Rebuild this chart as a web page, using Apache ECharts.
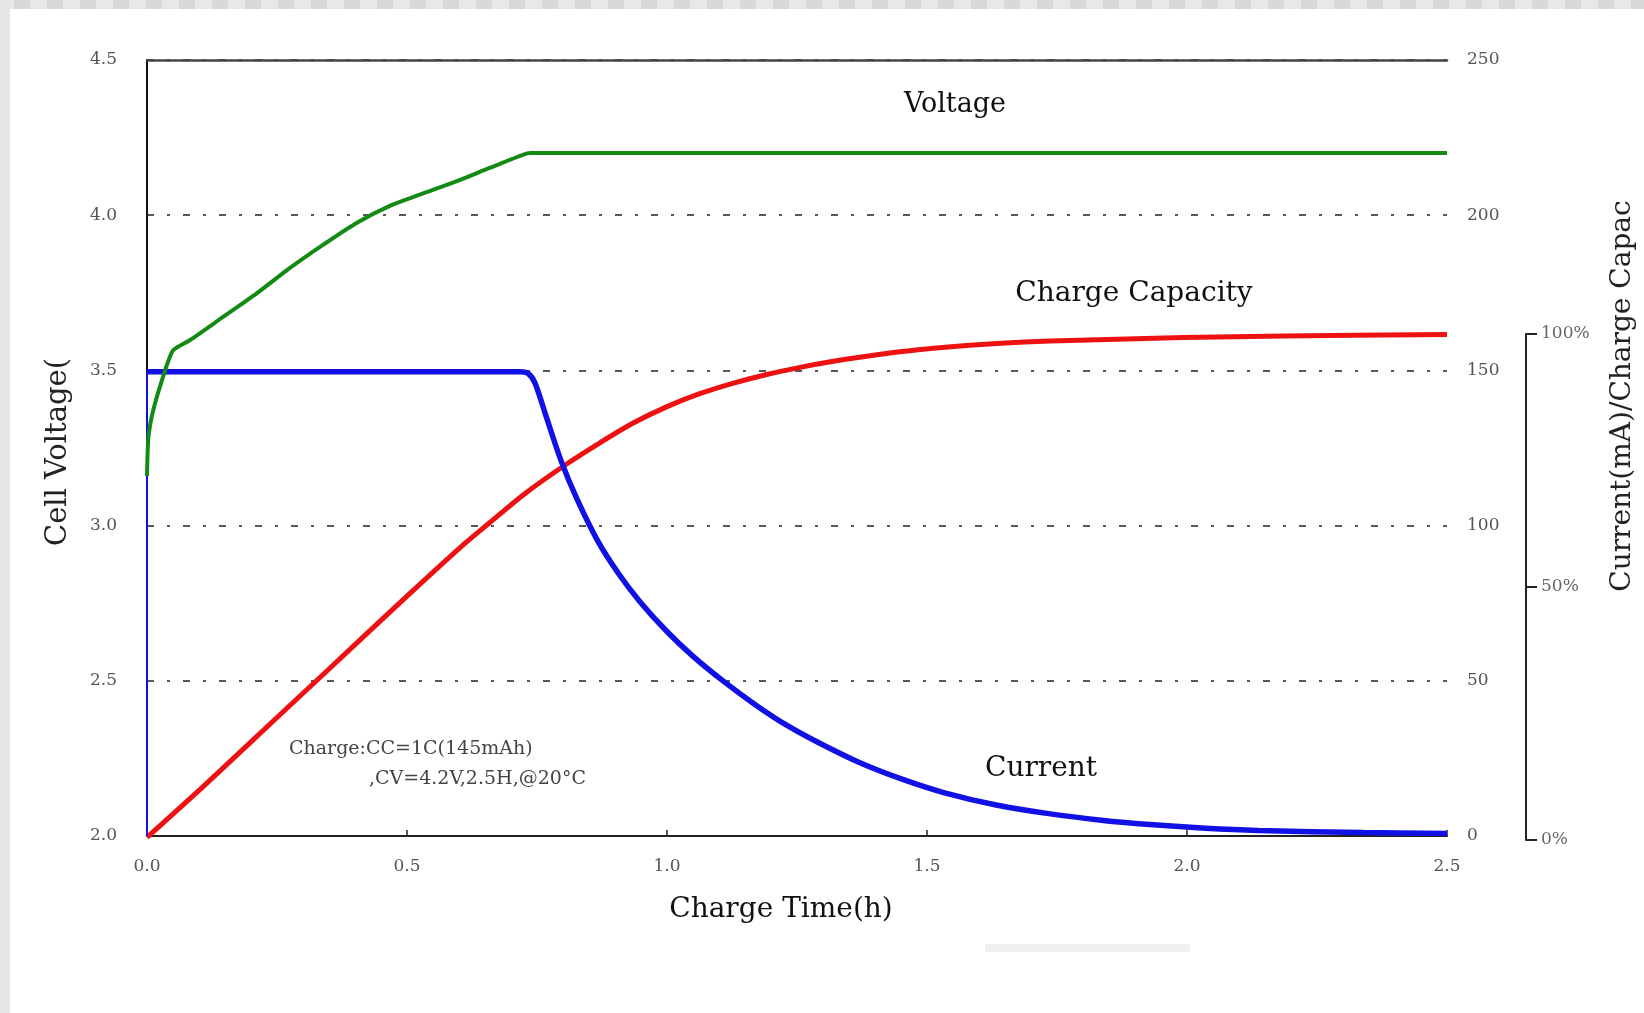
<!DOCTYPE html>
<html>
<head>
<meta charset="utf-8">
<script src="https://cdn.jsdelivr.net/npm/echarts@6/dist/echarts.min.js"></script>
<style>
html,body{margin:0;padding:0;background:#fff;}
#chart{width:1644px;height:1013px;}
</style>
</head>
<body>
<div id="chart"></div>
<script>
// ---- data ----
var voltageTime = [0, 0.0025, 0.009, 0.019, 0.031, 0.041, 0.051, 0.083, 0.147, 0.211, 0.275, 0.339, 0.403, 0.467, 0.531, 0.596, 0.66, 0.724, 0.737, 1.0, 1.5, 2.0, 2.5];
var voltage = [3.16, 3.28, 3.35, 3.415, 3.48, 3.53, 3.566, 3.598, 3.673, 3.748, 3.83, 3.905, 3.975, 4.03, 4.07, 4.11, 4.153, 4.195, 4.2, 4.2, 4.2, 4.2, 4.2];

var currentTime = [0, 0, 0.2, 0.5, 0.717, 0.733, 0.746, 0.766, 0.796, 0.827, 0.867, 0.907, 0.948, 0.998, 1.048, 1.109, 1.169, 1.23, 1.29, 1.371, 1.452, 1.532, 1.633, 1.734, 1.835, 1.935, 2.036, 2.137, 2.339, 2.5];
var current = [0, 149.6, 149.6, 149.6, 149.6, 149, 146, 136, 121, 108.5, 95, 84.5, 75.5, 66.2, 58.2, 49.8, 42.4, 35.7, 30.2, 23.6, 18.3, 14.0, 10.0, 7.2, 5.1, 3.6, 2.5, 1.8, 1.1, 0.8];

var capacityTime = [0, 0.1, 0.2, 0.3, 0.4, 0.5, 0.6, 0.66, 0.726, 0.807, 0.871, 0.935, 0.999, 1.063, 1.128, 1.192, 1.256, 1.32, 1.384, 1.448, 1.512, 1.634, 1.737, 1.993, 2.185, 2.5];
var capacity = [0.5, 9.8, 19.4, 29, 38.6, 48.2, 57.6, 62.8, 68.4, 74.3, 78.5, 82.4, 85.6, 88.2, 90.3, 92.0, 93.4, 94.6, 95.6, 96.5, 97.2, 98.1, 98.6, 99.3, 99.6, 99.9];

var xTicks = [0, 0.5, 1.0, 1.5, 2.0, 2.5];
var voltageTicks = [2.0, 2.5, 3.0, 3.5, 4.0, 4.5];
var currentTicks = [0, 50, 100, 150, 200, 250];
var percentTicks = [0, 50, 100];

var seriesNames = ['Charge Capacity', 'Current', 'Voltage'];
var axisTitles = {x: 'Charge Time(h)', left: 'Cell Voltage(', right: 'Current(mA)/Charge Capac'};
var noteLines = ['Charge:CC=1C(145mAh)', ',CV=4.2V,2.5H,@20\u00B0C'];

function zip(xs, ys) { return xs.map(function (x, i) { return [x, ys[i]]; }); }

var SERIF = '"DejaVu Serif", "Liberation Serif", serif';
var dashDot = [7, 13, 3, 13];

// decorative frame stripes
var deco = [
  {type: 'rect', shape: {x: 0, y: 0, width: 1644, height: 9}, style: {fill: '#e8e8e8'}, silent: true},
  {type: 'rect', shape: {x: 0, y: 0, width: 10, height: 1013}, style: {fill: '#e6e6e6'}, silent: true},
  {type: 'rect', shape: {x: 985, y: 944, width: 205, height: 8}, style: {fill: '#efefef'}, silent: true}
];
for (var bx = 14; bx < 1644; bx += 33) {
  deco.push({type: 'rect', shape: {x: bx, y: 0, width: 16, height: 9}, style: {fill: '#d8d8d8'}, silent: true});
}
function txt(text, x, y, size, color, rot, align) {
  return {type: 'text', x: x, y: y, rotation: rot || 0, silent: true,
    style: {text: text, fontSize: size, fontFamily: SERIF, fill: color,
      align: align || 'center', verticalAlign: 'middle'}};
}
deco.push(txt(seriesNames[2], 955, 105, 27, '#111'));
deco.push(txt(seriesNames[0], 1134, 294, 28, '#111'));
deco.push(txt(seriesNames[1], 1041, 769, 28, '#111'));
deco.push(txt(noteLines[0], 289, 749, 19, '#444', 0, 'left'));
deco.push(txt(noteLines[1], 369, 779, 19, '#444', 0, 'left'));
deco.push(txt(axisTitles.x, 781, 910, 28, '#111'));
deco.push(txt(axisTitles.left, 58, 452, 29, '#222', Math.PI / 2));
deco.push(txt(axisTitles.right, 1623, 396, 28, '#222', Math.PI / 2));

var labelStyle = {fontFamily: SERIF, fontSize: 17, color: '#555'};

var chart = echarts.init(document.getElementById('chart'), null, {renderer: 'canvas'});
chart.setOption({
  backgroundColor: '#ffffff',
  animation: false,
  grid: [
    {left: 147, right: 197, top: 60, bottom: 177},
    {left: 147, right: 197, top: 334, bottom: 173}
  ],
  xAxis: [
    {type: 'value', gridIndex: 0, position: 'bottom', min: xTicks[0], max: xTicks[xTicks.length - 1], interval: 0.5,
      axisLine: {show: true, onZero: false, lineStyle: {color: '#222', width: 2}},
      axisTick: {show: true, inside: true, length: 6, lineStyle: {color: '#222', width: 1.5}},
      axisLabel: Object.assign({margin: 22, formatter: function (v) { return v.toFixed(1); }}, labelStyle),
      splitLine: {show: false}},
    {type: 'value', gridIndex: 0, position: 'top', min: 0, max: 2.5,
      axisLine: {show: true, onZero: false, lineStyle: {color: '#444', width: 2.5}},
      axisTick: {show: false}, axisLabel: {show: false}, splitLine: {show: false}},
    {type: 'value', gridIndex: 1, min: 0, max: 2.5, show: false}
  ],
  yAxis: [
    {type: 'value', gridIndex: 0, position: 'left', min: voltageTicks[0], max: voltageTicks[voltageTicks.length - 1], interval: 0.5,
      axisLine: {show: true, onZero: false, lineStyle: {color: '#111', width: 2}},
      axisTick: {show: false},
      axisLabel: Object.assign({margin: 30, formatter: function (v) { return v.toFixed(1); }}, labelStyle),
      splitLine: {show: true, lineStyle: {color: '#222', width: 1.6, type: dashDot}}},
    {type: 'value', gridIndex: 0, position: 'right', min: currentTicks[0], max: currentTicks[currentTicks.length - 1], interval: 50,
      axisLine: {show: false, onZero: false}, axisTick: {show: false},
      axisLabel: Object.assign({margin: 20}, labelStyle),
      splitLine: {show: false}},
    {type: 'value', gridIndex: 1, position: 'right', offset: 79, min: percentTicks[0], max: percentTicks[percentTicks.length - 1], interval: 50,
      axisLine: {show: true, onZero: false, lineStyle: {color: '#222', width: 2}},
      axisTick: {show: true, length: 11, lineStyle: {color: '#222', width: 2}},
      axisLabel: {margin: 15, formatter: '{value}%', fontFamily: SERIF, fontSize: 17, color: '#666'},
      splitLine: {show: false}}
  ],
  series: [
    {name: seriesNames[0], type: 'line', xAxisIndex: 2, yAxisIndex: 2, data: zip(capacityTime, capacity),
      showSymbol: false, clip: false, smooth: 0.3, lineStyle: {color: '#ee1111', width: 5}},
    {name: seriesNames[1] + ' step', type: 'line', xAxisIndex: 0, yAxisIndex: 1, data: zip(currentTime.slice(0, 2), current.slice(0, 2)),
      showSymbol: false, clip: false, lineStyle: {color: '#1111e6', width: 2}},
    {name: seriesNames[1], type: 'line', xAxisIndex: 0, yAxisIndex: 1, data: zip(currentTime.slice(1), current.slice(1)),
      showSymbol: false, clip: false, smooth: 0.3, lineStyle: {color: '#1111e6', width: 5.5}},
    {name: seriesNames[2], type: 'line', xAxisIndex: 0, yAxisIndex: 0, data: zip(voltageTime, voltage),
      showSymbol: false, clip: false, smooth: 0.25, lineStyle: {color: '#138a13', width: 4}}
  ],
  graphic: {elements: deco}
});
</script>
</body>
</html>
